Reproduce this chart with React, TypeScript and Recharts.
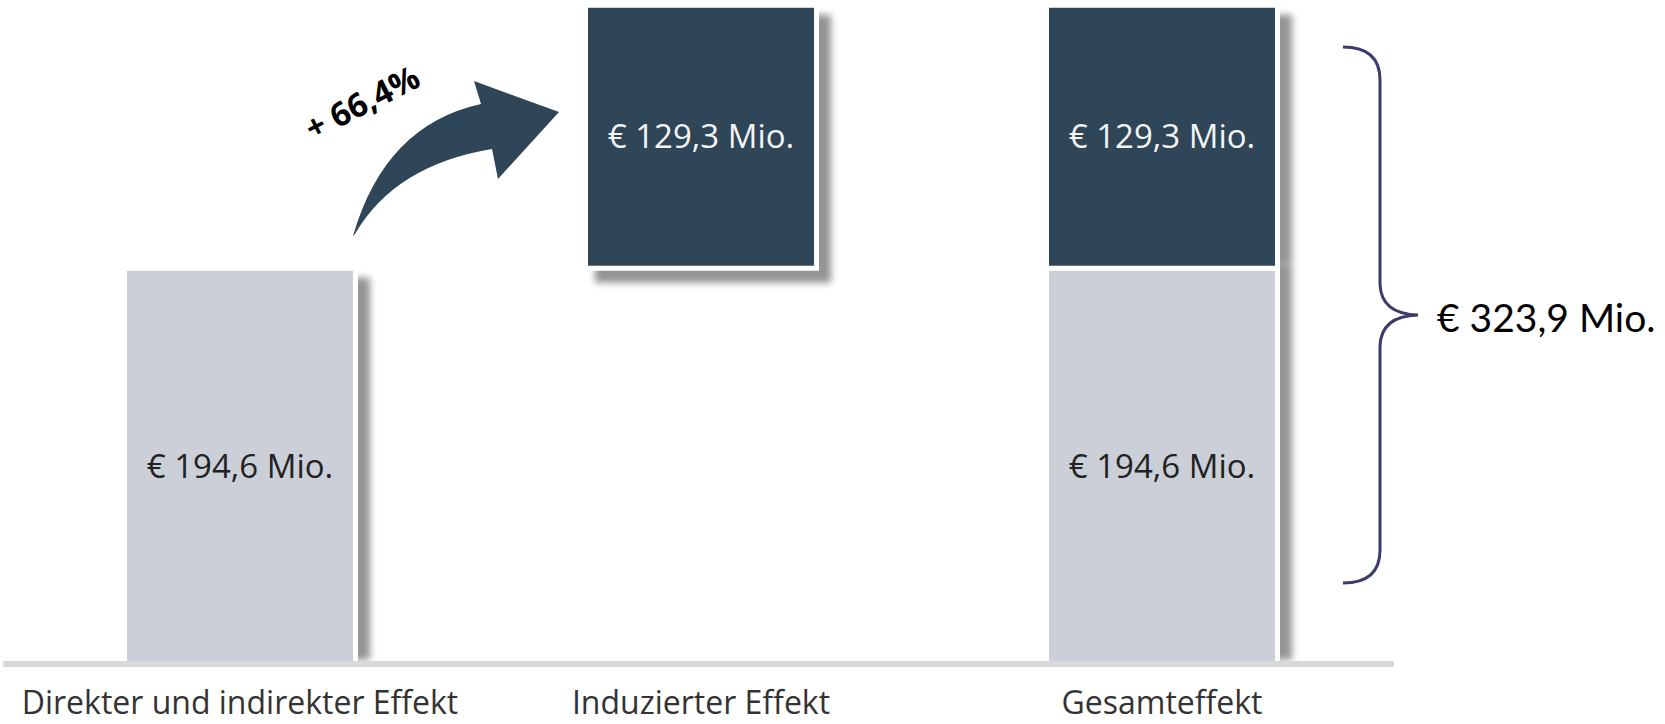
import React from 'react';
import { BarChart, Bar, XAxis, YAxis, LabelList } from 'recharts';

// categories + stacked series (offset is the invisible waterfall base)
const categories = ['Direkter und indirekter Effekt', 'Induzierter Effekt', 'Gesamteffekt'];
const offsetValues = [0, 194.6, 0];
const directValues = [194.6, 0, 194.6];
const inducedValues = [0, 129.3, 129.3];
const totalLabel = '€ 323,9 Mio.';
const growthLabel = '+ 66,4%';

const data = categories.map((name, i) => ({
  name,
  offset: offsetValues[i],
  direct: directValues[i],
  induced: inducedValues[i],
}));

const LIGHT = '#cbd0d8';
const DARK = '#2f4558';
const FONT = '"Open Sans", sans-serif';

const fmt = (v: any) => (v ? `€ ${Number(v).toFixed(1).replace('.', ',')} Mio.` : '');

// bar with white border and a soft drop shadow to the lower right
const ShadowBar = (props: any) => {
  const { x, y, width, height, fill, payload, series } = props;
  if (!height || height <= 0) return null;
  const s = 2.5;
  const d = 12;
  const isTop = series === 'induced' || !payload.induced;
  const floating = series === 'induced' && !payload.direct;
  const top = isTop ? y - s + d : y - 4;
  const bottom = floating ? y + height + s + d : y + height - 4;
  return (
    <g>
      <rect
        x={x - s + d}
        y={top}
        width={width + 2 * s}
        height={Math.max(0, bottom - top)}
        fill="#000"
        fillOpacity={0.42}
        filter="url(#barShadow)"
      />
      <rect x={x} y={y} width={width} height={height} fill={fill} stroke="#fff" strokeWidth={5} />
    </g>
  );
};

const App: React.FC = () => {
  return (
    <div style={{ position: 'absolute', left: 0, top: 0, width: 1665, height: 724, background: '#fff' }}>
      <svg width={0} height={0} style={{ position: 'absolute' }}>
        <defs>
          <filter id="barShadow" x="-20%" y="-20%" width="140%" height="140%">
            <feGaussianBlur stdDeviation={3.5} />
          </filter>
        </defs>
      </svg>

      <BarChart
        width={1665}
        height={724}
        data={data}
        margin={{ top: 1, right: 271, left: 3, bottom: 0 }}
        barSize={231}
      >
        <XAxis
          dataKey="name"
          interval={0}
          height={60}
          tickLine={false}
          tickSize={0}
          tickMargin={27}
          padding={{ left: 6.5, right: 1.5 }}
          axisLine={{ stroke: '#d9d9d9', strokeWidth: 6 }}
          tick={{ fontSize: 32, fill: '#333', fontFamily: FONT }}
        />
        <YAxis hide domain={[0, 326]} />
        <Bar dataKey="offset" stackId="a" fill="transparent" isAnimationActive={false} />
        <Bar
          dataKey="direct"
          stackId="a"
          fill={LIGHT}
          isAnimationActive={false}
          shape={(p: any) => <ShadowBar {...p} series="direct" />}
        >
          <LabelList dataKey="direct" position="center" formatter={fmt} fill="#222" fontSize={33} fontFamily={FONT} />
        </Bar>
        <Bar
          dataKey="induced"
          stackId="a"
          fill={DARK}
          isAnimationActive={false}
          shape={(p: any) => <ShadowBar {...p} series="induced" />}
        >
          <LabelList dataKey="induced" position="center" formatter={fmt} fill="#f4f4f4" fontSize={33} fontFamily={FONT} />
        </Bar>
      </BarChart>

      {/* annotations: growth arrow and total brace */}
      <svg width={1665} height={724} style={{ position: 'absolute', left: 0, top: 0, pointerEvents: 'none' }}>
        <path
          d="M353,236 Q385,125 481,104 L474,81 L559,112 L498,179 L492,149 Q395,165 355,234 Z"
          fill={DARK}
        />
        <text
          x={362}
          y={102}
          transform="rotate(-27 362 102)"
          textAnchor="middle"
          dominantBaseline="central"
          fontWeight={700}
          fontSize={33}
          fontFamily={FONT}
          fill="#000"
        >
          {growthLabel}
        </text>
        <path
          d="M1343,47 Q1380,47 1380,80 L1380,284 Q1381,314 1418,315 Q1381,316 1380,346 L1380,550 Q1380,583 1343,583"
          fill="none"
          stroke="#3b3c6c"
          strokeWidth={3}
        />
        <text x={1437} y={332} fontSize={39} fontFamily="Lato, sans-serif" fill="#000">
          {totalLabel}
        </text>
      </svg>
    </div>
  );
};

export default App;
